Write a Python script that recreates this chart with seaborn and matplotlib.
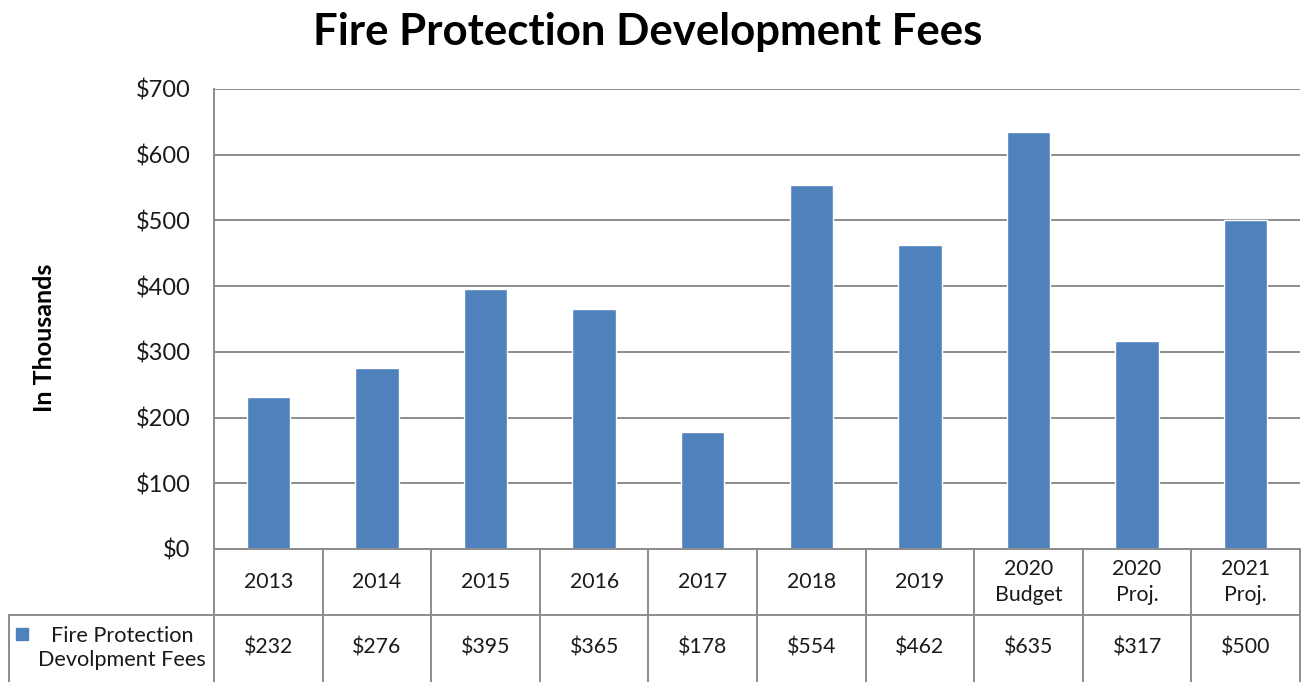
import matplotlib
matplotlib.use("Agg")
import matplotlib.pyplot as plt
import matplotlib.transforms as mtransforms
from matplotlib.lines import Line2D
from matplotlib.patches import Rectangle
import seaborn as sns
import pandas as pd

categories = ["2013", "2014", "2015", "2016", "2017", "2018", "2019",
              "2020\nBudget", "2020\nProj.", "2021\nProj."]
values = [232, 276, 395, 365, 178, 554, 462, 635, 317, 500]
value_labels = ["$232", "$276", "$395", "$365", "$178", "$554", "$462",
                "$635", "$317", "$500"]
yticks = [0, 100, 200, 300, 400, 500, 600, 700]
ytick_labels = ["$0", "$100", "$200", "$300", "$400", "$500", "$600", "$700"]
series_name = "Fire Protection\nDevolpment Fees"
title = "Fire Protection Development Fees"
ylabel = "In Thousands"

sns.set_theme(style="white")
plt.rcParams["font.family"] = ["Lato", "DejaVu Sans"]

BAR = "#4F81BD"
GRID = "#8C8C8C"
TXT = "#1a1a1a"

W, H = 1302, 682
fig = plt.figure(figsize=(W / 100, H / 100), dpi=100)
left, right, top, bottom = 214, 1300, 89, 549
ax = fig.add_axes([left / W, (H - bottom) / H, (right - left) / W, (bottom - top) / H])

df = pd.DataFrame({"cat": categories, "val": values})
sns.barplot(data=df, x="cat", y="val", color=BAR, width=0.4, ax=ax,
            saturation=1, order=categories)

ax.set_xlim(-0.5, len(categories) - 0.5)
ax.set_ylim(0, 700)
ax.set_yticks(yticks)
ax.set_yticklabels(ytick_labels, fontsize=17, color=TXT)
ax.tick_params(axis="y", length=0, pad=17)
ax.set_xticks([])
ax.set_xlabel("")
ax.set_ylabel("")
ax.yaxis.grid(True, color=GRID, lw=1.4)
ax.set_axisbelow(True)
for s in ["top", "right"]:
    ax.spines[s].set_visible(False)
for s in ["left", "bottom"]:
    ax.spines[s].set_color(GRID)
    ax.spines[s].set_linewidth(1.4)

# Data table below the axis
blend = mtransforms.blended_transform_factory(ax.transData, ax.transAxes)
h_ax = bottom - top
row2 = -(H - bottom) / h_ax
hdr_mid = -(582 - bottom) / h_ax
val_mid = -(648 - bottom) / h_ax
n = len(categories)
for i in range(n + 1):
    ax.add_line(Line2D([i - 0.5, i - 0.5], [0, row2], transform=blend,
                       color=GRID, lw=1.4, clip_on=False))
for i, (c, v) in enumerate(zip(categories, value_labels)):
    ax.text(i, hdr_mid, c, transform=blend, ha="center", va="center",
            fontsize=15.3, color=TXT, linespacing=1.4)
    ax.text(i, val_mid, v, transform=blend, ha="center", va="center",
            fontsize=15.3, color=TXT)

def fx(px):
    return px / W

def fy(py):
    return 1 - py / H

fig.add_artist(Line2D([fx(9), fx(right)], [fy(615), fy(615)], color=GRID, lw=1.4))
fig.add_artist(Line2D([fx(9), fx(9)], [fy(615), fy(H)], color=GRID, lw=1.4))
fig.add_artist(Rectangle((fx(16), fy(640)), 12 / W, 12 / H, color=BAR,
                         transform=fig.transFigure))
fig.text(fx(122), fy(648), series_name, ha="center", va="center",
         fontsize=15.6, color=TXT, multialignment="center", linespacing=1.3)

fig.text(fx(648), fy(32), title, ha="center", va="center",
         fontsize=31.5, fontweight="bold", color="black")
fig.text(fx(45), fy(338), ylabel, ha="center", va="center", rotation=90,
         fontsize=18, fontweight="bold", color="black")

fig.savefig("out.png", dpi=100, facecolor="white")
